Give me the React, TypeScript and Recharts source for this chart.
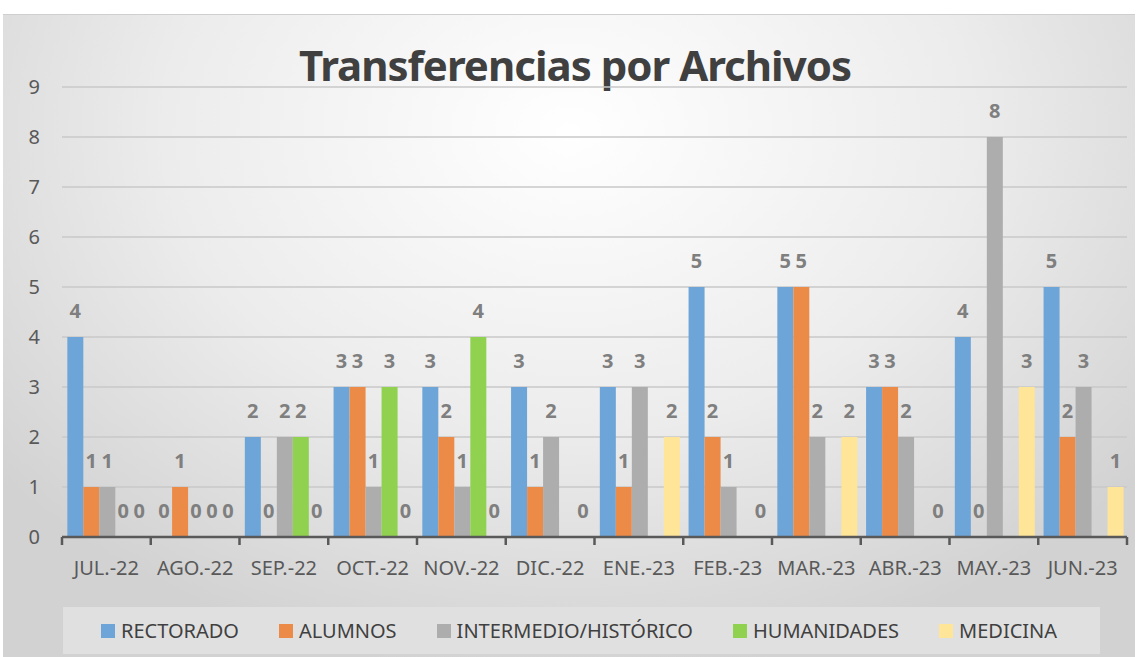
import { BarChart, Bar, XAxis, YAxis, CartesianGrid, LabelList } from 'recharts'

const MONTHS = ['JUL.-22', 'AGO.-22', 'SEP.-22', 'OCT.-22', 'NOV.-22', 'DIC.-22', 'ENE.-23', 'FEB.-23', 'MAR.-23', 'ABR.-23', 'MAY.-23', 'JUN.-23']
const RECTORADO = [4, 0, 2, 3, 3, 3, 3, 5, 5, 3, 4, 5]
const ALUMNOS = [1, 1, 0, 3, 2, 1, 1, 2, 5, 3, 0, 2]
const INTERMEDIO = [1, 0, 2, 1, 1, 2, 3, 1, 2, 2, 8, 3]
const HUMANIDADES = [0, 0, 2, 3, 4, null, null, null, null, null, null, null]
const MEDICINA = [0, 0, 0, 0, 0, 0, 2, 0, 2, 0, 3, 1]
const Y_TICKS = [0, 1, 2, 3, 4, 5, 6, 7, 8, 9]

const SERIES = [
  { key: 'rectorado', name: 'RECTORADO', color: '#6da5d8', values: RECTORADO },
  { key: 'alumnos', name: 'ALUMNOS', color: '#ec8b48', values: ALUMNOS },
  { key: 'intermedio', name: 'INTERMEDIO/HISTÓRICO', color: '#adadad', values: INTERMEDIO },
  { key: 'humanidades', name: 'HUMANIDADES', color: '#90d14f', values: HUMANIDADES },
  { key: 'medicina', name: 'MEDICINA', color: '#ffe598', values: MEDICINA },
]

const data = MONTHS.map((m, i) => {
  const row: Record<string, string | number | null> = { month: m }
  SERIES.forEach((s) => { row[s.key] = s.values[i] })
  return row
})

const FONT = '"Noto Sans", "Open Sans", sans-serif'
const WIDTH = 1138
const HEIGHT = 600
const MARGIN = { top: 87, right: 11, left: 0, bottom: 23 }
const Y_WIDTH = 62
const BAND = (WIDTH - MARGIN.left - MARGIN.right - Y_WIDTH) / MONTHS.length

// zero values still need a (invisible) rect so the label gets drawn
const zeroPoint = (v: any) => (v === 0 ? 0.01 : 0)

function MonthTick(props: any) {
  const { x, y, payload, index } = props
  const half = BAND / 2
  return (
    <g>
      <line x1={x - half} x2={x - half} y1={y} y2={y + 8} stroke="#595959" strokeWidth={2.5} />
      {index === MONTHS.length - 1 && (
        <line x1={x + half} x2={x + half} y1={y} y2={y + 8} stroke="#595959" strokeWidth={2.5} />
      )}
      <text x={x} y={y + 38} textAnchor="middle" fontSize={20} fill="#595959" fontFamily={FONT}>
        {payload.value}
      </text>
    </g>
  )
}

export default function App() {
  return (
    <div style={{ position: 'absolute', left: 0, top: 0, width: 1138, height: 657, background: '#fff', overflow: 'hidden' }}>
      <div
        style={{
          position: 'absolute',
          left: 3,
          top: 14,
          width: 1132,
          height: 643,
          borderTop: '1px solid #cfcfcf',
          background: 'radial-gradient(ellipse 65% 85% at 50% 18%, #ffffff 0%, #ececec 55%, #d2d2d2 100%)',
        }}
      />
      <div
        style={{
          position: 'absolute',
          top: 36,
          left: 0,
          width: 1150,
          textAlign: 'center',
          fontFamily: FONT,
          fontWeight: 700,
          fontSize: 42,
          letterSpacing: -1,
          color: '#404040',
        }}
      >
        Transferencias por Archivos
      </div>
      <div style={{ position: 'absolute', left: 0, top: 0 }}>
        <BarChart width={WIDTH} height={HEIGHT} data={data} margin={MARGIN} barGap={0} barCategoryGap="6%">
          <CartesianGrid vertical={false} stroke="#c8c8c8" strokeWidth={1.5} />
          <XAxis
            dataKey="month"
            axisLine={{ stroke: '#595959', strokeWidth: 2.5 }}
            tickLine={false}
            tick={<MonthTick />}
            interval={0}
            height={40}
            tickSize={0}
            tickMargin={0}
          />
          <YAxis
            domain={[0, 9]}
            ticks={Y_TICKS}
            axisLine={false}
            tickLine={false}
            width={Y_WIDTH}
            tickSize={0}
            tickMargin={22}
            interval={0}
            tick={{ fontSize: 20, fill: '#595959', fontFamily: FONT }}
          />
          {SERIES.map((s) => (
            <Bar
              key={s.key}
              dataKey={s.key}
              name={s.name}
              fill={s.color}
              minPointSize={zeroPoint}
              isAnimationActive={false}
            >
              <LabelList
                dataKey={s.key}
                position="top"
                offset={19}
                fill="#7f7f7f"
                fontSize={20}
                fontWeight={700}
                fontFamily={FONT}
                formatter={(v: any) => (v === null || v === undefined ? '' : String(v))}
              />
            </Bar>
          ))}
        </BarChart>
      </div>
      <div
        style={{
          position: 'absolute',
          left: 63,
          top: 607,
          width: 1037,
          height: 47,
          background: '#e0e0e0',
          display: 'flex',
          alignItems: 'center',
          paddingLeft: 38,
          boxSizing: 'border-box',
          fontFamily: FONT,
          fontSize: 20,
          color: '#404040',
        }}
      >
        {SERIES.map((s) => (
          <div key={s.key} style={{ display: 'flex', alignItems: 'center', marginRight: 40 }}>
            <span style={{ display: 'inline-block', width: 14, height: 14, background: s.color, marginRight: 6 }} />
            <span>{s.name}</span>
          </div>
        ))}
      </div>
    </div>
  )
}
